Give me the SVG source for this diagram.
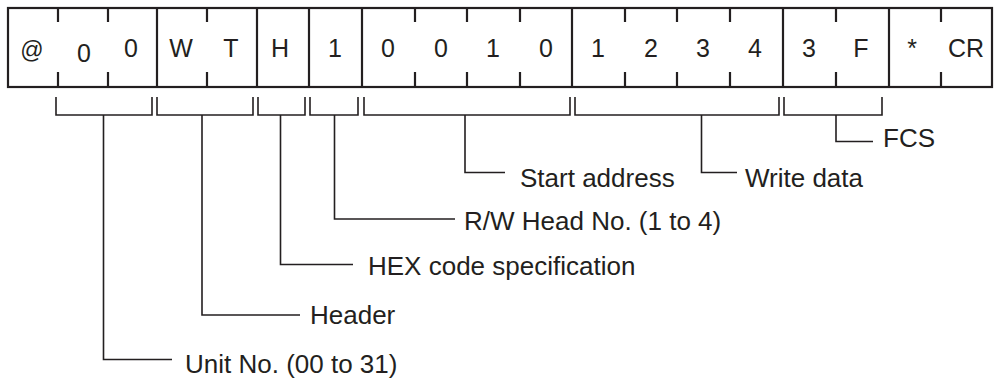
<svg xmlns="http://www.w3.org/2000/svg" width="995" height="380" viewBox="0 0 995 380">
<style>
.frame{fill:none;stroke:#231f20;stroke-width:2.2}
.div{stroke:#231f20;stroke-width:2.2}
.tick{stroke:#231f20;stroke-width:2.2}
.br{fill:none;stroke:#231f20;stroke-width:1.6}
.ln{fill:none;stroke:#231f20;stroke-width:1.6}
.c{font-family:"Liberation Sans",Arial,sans-serif;font-size:25px;fill:#231f20;text-anchor:middle}
.l{font-family:"Liberation Sans",Arial,sans-serif;font-size:26px;fill:#231f20}
</style>
<rect width="995" height="380" fill="#fff"/>
<g id="frame">
<rect class="frame" x="8" y="8" width="984" height="79"/>
<path class="div" d="M157,8V87M257,8V87M309,8V87M362,8V87M572,8V87M783,8V87M889,8V87"/>
<path class="tick" d="M58,8V22M58,72V87M108,8V22M108,72V87M207,8V22M207,72V87M415,8V22M415,72V87M467,8V22M467,72V87M520,8V22M520,72V87M625,8V22M625,72V87M677,8V22M677,72V87M730,8V22M730,72V87M836,8V22M836,72V87M941,8V22M941,72V87"/>
</g>
<g id="cells">
<text class="c" x="32" y="58" style="font-size:23px">@</text>
<text class="c" x="84" y="62">0</text>
<text class="c" x="131" y="57">0</text>
<text class="c" x="181" y="57">W</text>
<text class="c" x="231" y="57">T</text>
<text class="c" x="280" y="57">H</text>
<text class="c" x="335" y="57">1</text>
<text class="c" x="388" y="57">0</text>
<text class="c" x="441" y="57">0</text>
<text class="c" x="493" y="57">1</text>
<text class="c" x="546" y="57">0</text>
<text class="c" x="598" y="57">1</text>
<text class="c" x="651" y="57">2</text>
<text class="c" x="703" y="57">3</text>
<text class="c" x="755" y="57">4</text>
<text class="c" x="809" y="57">3</text>
<text class="c" x="861" y="57">F</text>
<text class="c" x="912" y="57">*</text>
<text class="c" x="966" y="57">CR</text>
</g>
<g id="connectors">
<path class="br" d="M56,97V115H152V97"/>
<path class="br" d="M157,97V115H253V97"/>
<path class="br" d="M258,97V115H305V97"/>
<path class="br" d="M310,97V115H358V97"/>
<path class="br" d="M364,97V115H570V97"/>
<path class="br" d="M575,97V115H779V97"/>
<path class="br" d="M784,97V115H882V97"/>
<path class="ln" d="M103.5,115V359.5H172"/>
<path class="ln" d="M202,115V315H300"/>
<path class="ln" d="M280.5,115V264.5H353"/>
<path class="ln" d="M334.5,115V219H455"/>
<path class="ln" d="M465,115V172.5H505"/>
<path class="ln" d="M701.5,115V172.5H737"/>
<path class="ln" d="M836,115V141.5H873"/>
</g>
<g id="labels">
<text class="l" x="185" y="373">Unit No. (00 to 31)</text>
<text class="l" x="310" y="324">Header</text>
<text class="l" x="368" y="275">HEX code specification</text>
<text class="l" x="464" y="230">R/W Head No. (1 to 4)</text>
<text class="l" x="520" y="187">Start address</text>
<text class="l" x="745" y="187">Write data</text>
<text class="l" x="883" y="147">FCS</text>
</g>
</svg>
